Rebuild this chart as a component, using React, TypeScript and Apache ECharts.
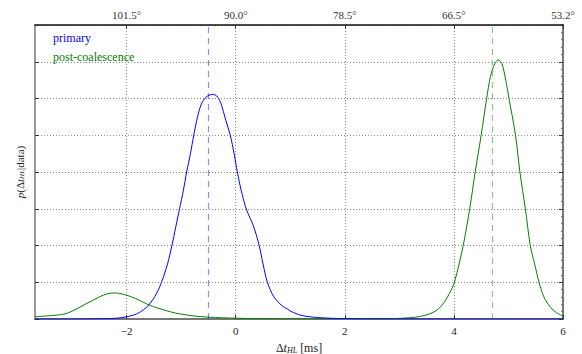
import React, { useEffect, useRef } from "react";
import * as echarts from "echarts";

const xTicks = [-2, 0, 2, 4, 6];
const topTickLabels = ["101.5°", "90.0°", "78.5°", "66.5°", "53.2°"];
const xMin = -3.68;
const xMax = 6;

const primaryMedian = -0.51;
const postMedian = 4.71;

const primaryX = [
  -3.68, -3.0, -2.6, -2.2, -2.0, -1.8, -1.6, -1.45, -1.36, -1.25, -1.17, -1.1, -1.03, -0.96, -0.9,
  -0.83, -0.77, -0.7, -0.63, -0.55, -0.47, -0.41, -0.35, -0.28, -0.18, -0.1, -0.03, 0.03, 0.1,
  0.18, 0.24, 0.29, 0.35, 0.43, 0.5, 0.58, 0.7, 0.85, 0.95, 1.01, 1.2, 1.5, 2.0, 3.0, 6.0,
];
const primaryY = [
  0, 0.001, 0.005, 0.02, 0.06, 0.15, 0.37, 0.7, 1.0, 1.5, 2.0, 2.5, 3.0, 3.5, 4.0,
  4.5, 5.0, 5.5, 5.85, 6.03, 6.1, 6.11, 6.07, 5.9, 5.4, 5.0, 4.5, 4.0, 3.5,
  3.05, 2.82, 2.66, 2.42, 2.0, 1.5, 1.0, 0.6, 0.36, 0.27, 0.21, 0.1, 0.04, 0.01, 0.002, 0,
];

const postX = [
  -3.68, -3.4, -3.13, -2.95, -2.76, -2.5, -2.35, -2.21, -2.05, -1.84, -1.57, -1.3, -1.1, -0.8,
  -0.49, 0, 0.5, 1.0, 2.0, 2.8, 3.04, 3.3, 3.47, 3.62, 3.72, 3.82, 3.92, 4.01, 4.17, 4.29, 4.39,
  4.5, 4.6, 4.67, 4.75, 4.81, 4.88, 4.95, 5.01, 5.13, 5.21, 5.31, 5.4, 5.48, 5.56, 5.65, 5.77,
  5.88, 6.0,
];
const postY = [
  0.065, 0.09, 0.14, 0.25, 0.4, 0.6, 0.69, 0.71, 0.67, 0.56, 0.37, 0.24, 0.16, 0.09,
  0.05, 0.02, 0.01, 0.005, 0.003, 0.01, 0.02, 0.05, 0.1, 0.18, 0.28, 0.45, 0.7, 1.0, 2.0, 3.0, 4.0,
  5.0, 6.0, 6.6, 6.95, 7.05, 6.95, 6.5, 6.0, 5.0, 4.0, 3.0, 2.0, 1.5, 1.0, 0.6, 0.32,
  0.17, 0.08,
];

const FONT = "Liberation Serif";

export default function App() {
  const ref = useRef<HTMLDivElement>(null);
  useEffect(() => {
    if (!ref.current) return;
    const chart = echarts.init(ref.current, undefined, { renderer: "svg" });
    const grid = { left: 35, right: 19, top: 25, bottom: 35, outerBoundsMode: "none", containLabel: false };
    const dotted = { show: true, lineStyle: { color: "#888", type: [1, 2], width: 1 } };
    chart.setOption({
      animation: false,
      grid,
      legend: {
        orient: "vertical",
        left: 42,
        top: 27,
        itemWidth: 0,
        itemHeight: 0,
        itemGap: 7,
        selectedMode: false,
        textStyle: { fontFamily: FONT, fontSize: 12 },
        data: [
          { name: "primary", textStyle: { color: "#0000ff", fontFamily: FONT, fontSize: 12 } },
          { name: "post-coalescence", textStyle: { color: "#008000", fontFamily: FONT, fontSize: 12 } },
        ],
      },
      xAxis: [
        {
          type: "value",
          position: "bottom",
          min: xMin,
          max: xMax,
          axisLine: { show: true, onZero: false, lineStyle: { color: "#777", width: 2 } },
          axisTick: { show: true, inside: true, length: 4, customValues: xTicks, lineStyle: { color: "#333" } },
          axisLabel: {
            customValues: xTicks,
            fontFamily: FONT,
            fontSize: 11,
            color: "#222",
            margin: 6,
            formatter: (v: number) => (v < 0 ? "\u2212" + Math.abs(v) : String(v)),
          },
          splitLine: dotted,
          name: "{d|Δ}{t|t}{s|HL} {n|[ms]}",
          nameLocation: "middle",
          nameGap: 22,
          nameTextStyle: {
            fontFamily: FONT,
            fontSize: 12,
            color: "#222",
            rich: {
              d: { fontFamily: FONT, fontSize: 12, color: "#222" },
              t: { fontFamily: FONT, fontSize: 12, fontStyle: "italic", color: "#222" },
              s: { fontFamily: FONT, fontSize: 8, fontStyle: "italic", color: "#222", padding: [5, 0, 0, 0] },
              n: { fontFamily: FONT, fontSize: 12, color: "#222" },
            },
          },
        },
        {
          type: "value",
          position: "top",
          min: xMin,
          max: xMax,
          axisLine: { show: true, onZero: false, lineStyle: { color: "#111", width: 1.5 } },
          axisTick: { show: true, inside: true, length: 4, customValues: xTicks, lineStyle: { color: "#333" } },
          axisLabel: {
            customValues: xTicks,
            fontFamily: FONT,
            fontSize: 11,
            color: "#333",
            margin: 5,
            formatter: (v: number) => {
              const i = xTicks.indexOf(Math.round(v));
              return i >= 0 ? topTickLabels[i] : "";
            },
          },
          splitLine: { show: false },
        },
      ],
      yAxis: [
        {
          type: "value",
          position: "left",
          min: 0,
          max: 8,
          interval: 1,
          axisLine: { show: true, onZero: false, lineStyle: { color: "#777", width: 1.5 } },
          axisTick: { show: true, inside: true, length: 4, lineStyle: { color: "#333" } },
          axisLabel: { show: false },
          splitLine: dotted,
          name: "{p|p}({d|Δ}{t|t}{s|HL}|data)",
          nameLocation: "middle",
          nameGap: 10,
          nameRotate: 90,
          nameTextStyle: {
            fontFamily: FONT,
            fontSize: 11,
            color: "#222",
            rich: {
              p: { fontFamily: FONT, fontSize: 11, fontStyle: "italic", color: "#222" },
              d: { fontFamily: FONT, fontSize: 11, color: "#222" },
              t: { fontFamily: FONT, fontSize: 11, fontStyle: "italic", color: "#222" },
              s: { fontFamily: FONT, fontSize: 7, fontStyle: "italic", color: "#222", padding: [4, 0, 0, 0] },
            },
          },
        },
        {
          type: "value",
          position: "right",
          min: 0,
          max: 8,
          interval: 1,
          axisLine: { show: true, onZero: false, lineStyle: { color: "#777", width: 2 } },
          axisTick: { show: true, inside: true, length: 4, lineStyle: { color: "#333" } },
          minorTick: { show: true, splitNumber: 5, length: 2, lineStyle: { color: "#777" } },
          axisLabel: { show: false },
          splitLine: { show: false },
        },
      ],
      series: [
        {
          name: "primary",
          type: "line",
          xAxisIndex: 0,
          yAxisIndex: 0,
          showSymbol: false,
          smooth: 0.3,
          lineStyle: { color: "#0000ff", width: 1 },
          itemStyle: { color: "#0000ff" },
          data: primaryX.map((x, i) => [x, primaryY[i]]),
          markLine: {
            silent: true,
            symbol: "none",
            label: { show: false },
            lineStyle: { color: "rgba(0,0,255,0.45)", type: [6, 5], width: 1.2 },
            data: [{ xAxis: primaryMedian }],
          },
          z: 3,
        },
        {
          name: "post-coalescence",
          type: "line",
          xAxisIndex: 0,
          yAxisIndex: 0,
          showSymbol: false,
          smooth: 0.3,
          lineStyle: { color: "#008000", width: 1 },
          itemStyle: { color: "#008000" },
          data: postX.map((x, i) => [x, postY[i]]),
          markLine: {
            silent: true,
            symbol: "none",
            label: { show: false },
            lineStyle: { color: "rgba(0,128,0,0.45)", type: [6, 5], width: 1.2 },
            data: [{ xAxis: postMedian }],
          },
          z: 2,
        },
      ],
    });
    return () => chart.dispose();
  }, []);
  return <div ref={ref} style={{ width: 582, height: 354, position: "absolute", left: 0, top: 0 }} />;
}
